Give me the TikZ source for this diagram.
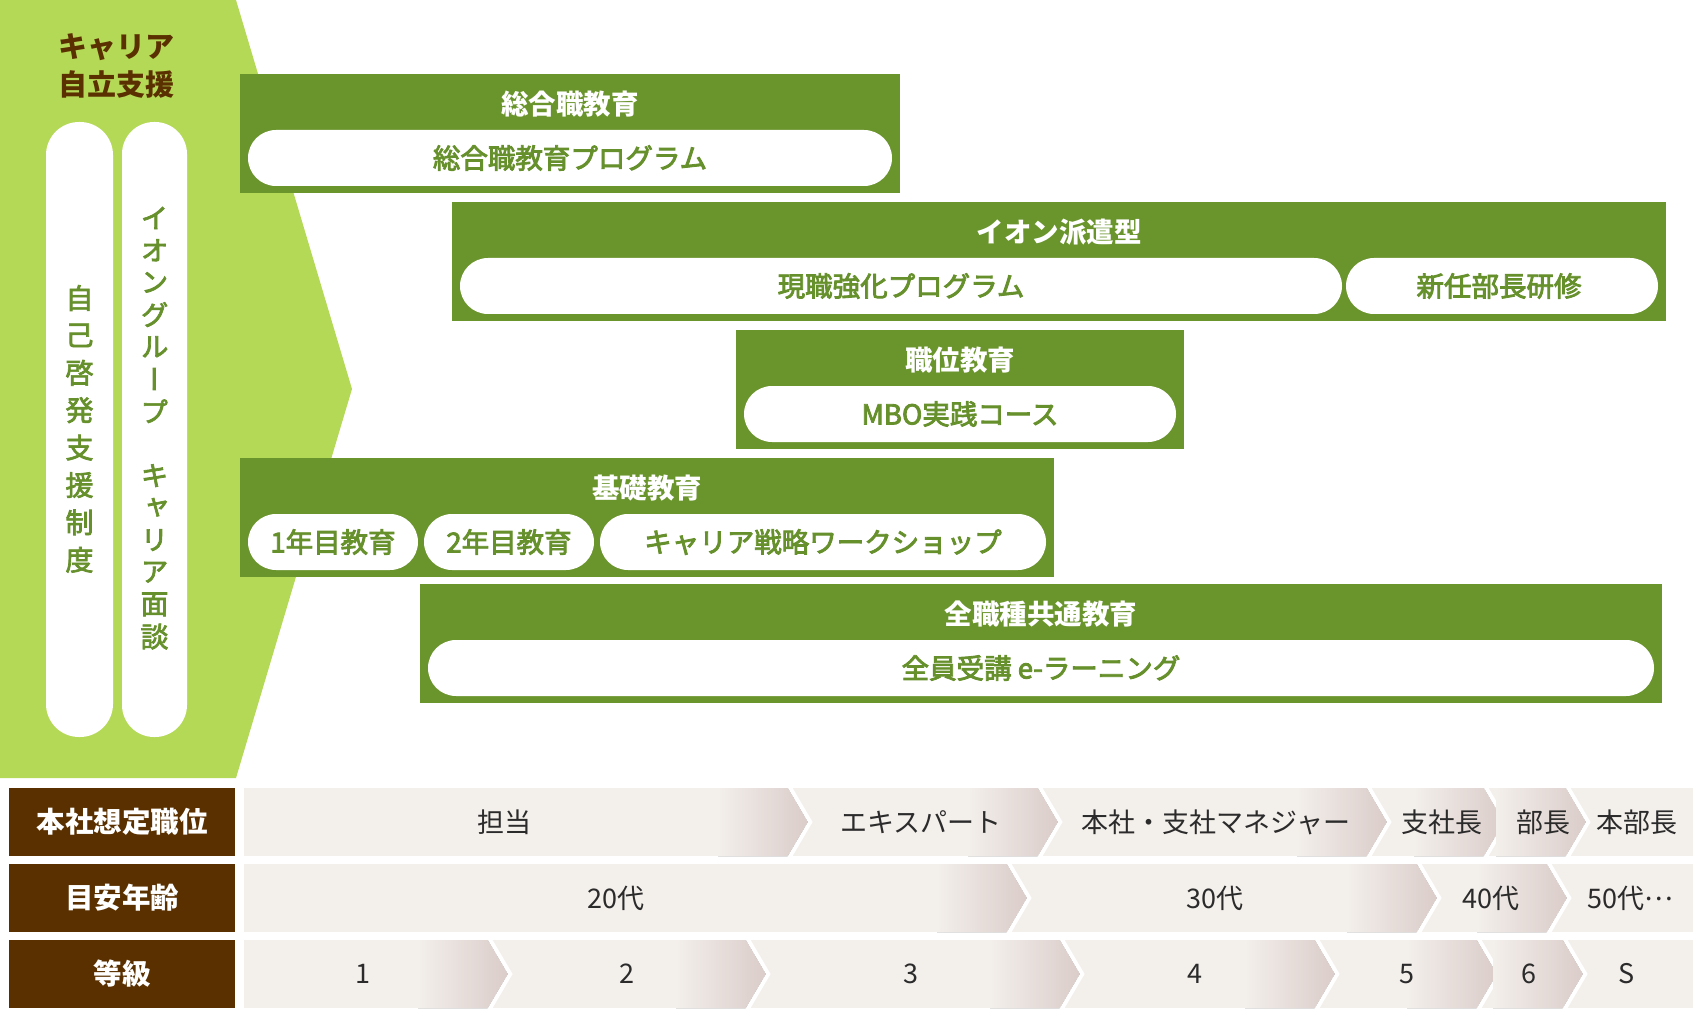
\documentclass[tikz,border=0pt]{standalone}
\usepackage{fontspec}
\setmainfont{Noto Sans CJK JP}
\newfontfamily\medjp{Noto Sans CJK JP}[FakeBold=3]
\newfontfamily\vjp{Noto Sans CJK JP}[RawFeature=+vert, FakeBold=2.5]

\definecolor{leaf}{HTML}{B4D957}
\definecolor{moss}{HTML}{6A942C}
\definecolor{mossText}{HTML}{66902B}
\definecolor{bark}{HTML}{5A3000}
\definecolor{sand}{HTML}{F3EFEB}
\definecolor{sandDark}{HTML}{DACCC9}
\definecolor{ink}{HTML}{2B2B2B}

% shaded tip and white gap of one chevron: point x, row top y
\newcommand{\chev}[2]{%
  \fill[left color=sand, right color=sandDark] (#1-90,#2) -- (#1-20,#2) -- (#1,#2+34) -- (#1-20,#2+68) -- (#1-90,#2+68) -- cycle;
  \draw[white, line width=4pt] (#1-18.9,#2-2) -- (#1+2.3,#2+34) -- (#1-18.9,#2+70);
}

\begin{document}
\begin{tikzpicture}[x=1pt, y=-1pt,
    boxtitle/.style = {text=white, font=\bfseries\fontsize{27.5}{27.5}\selectfont, inner sep=0},
    pilltext/.style = {text=mossText, font=\medjp\fontsize{27.5}{27.5}\selectfont, inner sep=0},
    vchar/.style = {text=mossText, font=\vjp\fontsize{28}{28}\selectfont, inner sep=0},
    rowlabel/.style = {text=white, font=\bfseries\fontsize{28.5}{28.5}\selectfont, inner sep=0},
    rowtext/.style = {text=ink, font=\fontsize{27}{27}\selectfont, inner sep=0}]
    \useasboundingbox (0,0) rectangle (1700,1016);

    % career support arrow
    \fill[leaf] (0,0) -- (236,0) -- (352,389) -- (236,778) -- (0,778) -- cycle;
    \node[text=bark, font=\bfseries\fontsize{29}{38}\selectfont, align=center, inner sep=0] (careerTitle) at (116,66) {キャリア\\自立支援};
    \fill[white, rounded corners=33] (46,122) rectangle (113,737);
    \fill[white, rounded corners=32] (122,122) rectangle (187,737);
    \foreach \ch [count=\i from 0] in {自,己,啓,発,支,援,制,度}
        \node[vchar] (self\i) at (79.5,298+37.4*\i) {\ch};
    \foreach \ch/\i in {イ/0,オ/1,ン/2,グ/3,ル/4,ー/5,プ/6,キ/8,ャ/9,リ/10,ア/11,面/12,談/13}
        \node[vchar] (talk\i) at (154.5,218+32.2*\i) {\ch};

    % education boxes
    \fill[moss] (240,74) rectangle (900,193);
    \node[boxtitle] (sogoTitle) at (570,104) {総合職教育};
    \fill[white, rounded corners=28] (248,130) rectangle (892,186);
    \node[pilltext] (sogoProg) at (570,158) {総合職教育プログラム};

    \fill[moss] (452,202) rectangle (1666,321);
    \node[boxtitle] (haken) at (1059,232) {イオン派遣型};
    \fill[white, rounded corners=28] (460,258) rectangle (1342,314);
    \fill[white, rounded corners=28] (1346,258) rectangle (1658,314);
    \node[pilltext] (genshoku) at (901,286) {現職強化プログラム};
    \node[pilltext] (buchou) at (1499,286) {新任部長研修};

    \fill[moss] (736,330) rectangle (1184,449);
    \node[boxtitle] (shokui) at (960,360) {職位教育};
    \fill[white, rounded corners=28] (744,386) rectangle (1176,442);
    \node[pilltext] (mbo) at (960,414) {MBO実践コース};

    \fill[moss] (240,458) rectangle (1054,577);
    \node[boxtitle] (kiso) at (647,488) {基礎教育};
    \fill[white, rounded corners=28] (248,514) rectangle (418,570);
    \fill[white, rounded corners=28] (424,514) rectangle (594,570);
    \fill[white, rounded corners=28] (600,514) rectangle (1046,570);
    \node[pilltext] (year1) at (333,542) {1年目教育};
    \node[pilltext] (year2) at (509,542) {2年目教育};
    \node[pilltext] (workshop) at (823,542) {キャリア戦略ワークショップ};

    \fill[moss] (420,584) rectangle (1662,703);
    \node[boxtitle] (zenshoku) at (1041,614) {全職種共通教育};
    \fill[white, rounded corners=28] (428,640) rectangle (1654,696);
    \node[pilltext] (elearn) at (1041,668) {全員受講 e-ラーニング};

    % position / age / grade rows
    \fill[bark] (9,788) rectangle (235,856);
    \fill[bark] (9,864) rectangle (235,932);
    \fill[bark] (9,940) rectangle (235,1008);
    \node[rowlabel] (posLabel) at (122,822) {本社想定職位};
    \node[rowlabel] (ageLabel) at (122,898) {目安年齢};
    \node[rowlabel] (gradeLabel) at (122,974) {等級};

    \fill[sand] (244,788) rectangle (1693,856);
    \fill[sand] (244,864) rectangle (1693,932);
    \fill[sand] (244,940) rectangle (1693,1008);
    \foreach \p in {808,1058,1387,1504,1586} {\chev{\p}{788}}
    \foreach \p in {1027,1437,1567} {\chev{\p}{864}}
    \foreach \p in {508,766,1080,1335,1497,1583} {\chev{\p}{940}}

    \node[rowtext] (tanto) at (504,822) {担当};
    \node[rowtext] (expert) at (921,822) {エキスパート};
    \node[rowtext] (manager) at (1216,822) {本社・支社マネジャー};
    \node[rowtext] (shishacho) at (1442,822) {支社長};
    \node[rowtext] (bucho) at (1543,822) {部長};
    \node[rowtext] (honbucho) at (1637,822) {本部長};

    \node[rowtext] (age20) at (616,898) {20代};
    \node[rowtext] (age30) at (1215,898) {30代};
    \node[rowtext] (age40) at (1491,898) {40代};
    \node[rowtext] (age50) at (1630,898) {50代\raisebox{0.3em}{…}};

    \node[rowtext] (grade1) at (363,974) {1};
    \node[rowtext] (grade2) at (627,974) {2};
    \node[rowtext] (grade3) at (911,974) {3};
    \node[rowtext] (grade4) at (1195,974) {4};
    \node[rowtext] (grade5) at (1407,974) {5};
    \node[rowtext] (grade6) at (1529,974) {6};
    \node[rowtext] (gradeS) at (1627,974) {S};
\end{tikzpicture}
\end{document}
